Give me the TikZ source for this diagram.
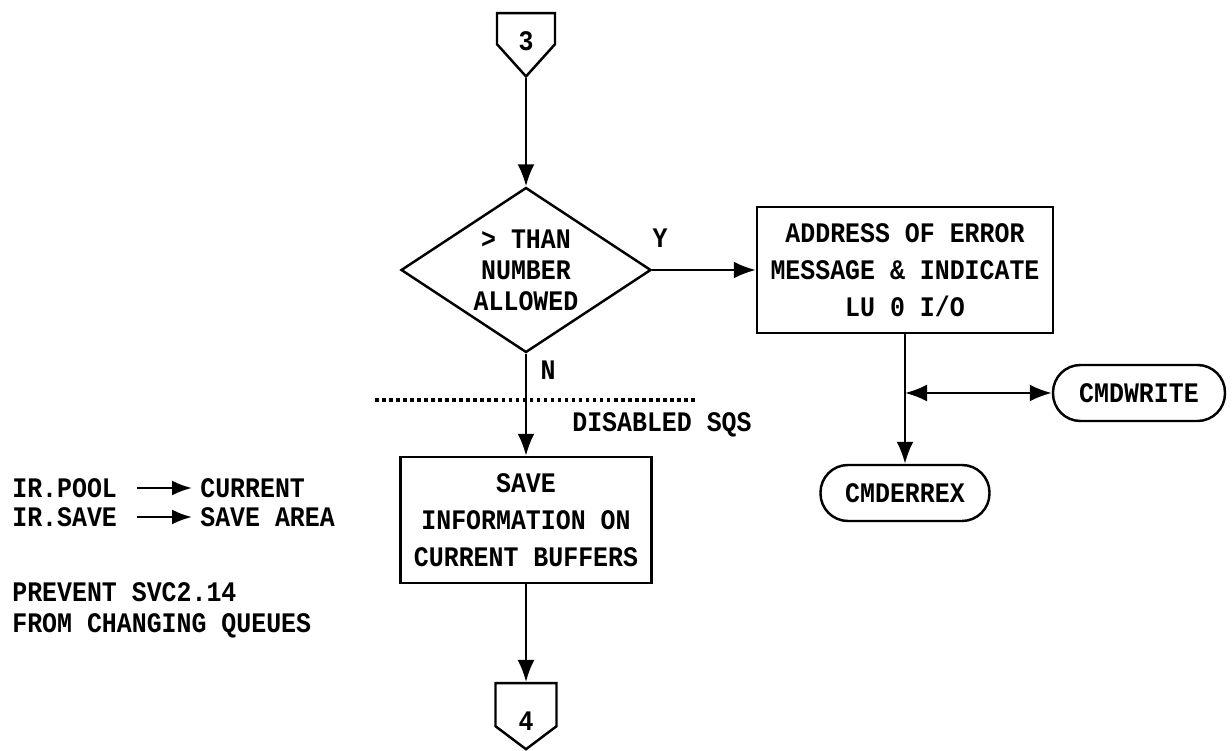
\documentclass[tikz,border=0pt]{standalone}
\usepackage{fontspec}
\usepackage{tikz}
\usetikzlibrary{shapes.geometric,shapes.symbols,arrows.meta}
\newfontfamily\chartfont{Liberation Mono}[FakeStretch=0.88]

\begin{document}
\begin{tikzpicture}[
    every node/.style={font=\chartfont\bfseries\fontsize{16.1pt}{21pt}\selectfont},
    flow/.style={line width=1.4pt, -{Latex[length=0.44cm,width=0.34cm]}},
    ptr/.style={line width=1.4pt, -{Latex[length=0.4cm,width=0.3cm]}, shorten <=0.4cm, shorten >=0.16cm},
    procbox/.style={rectangle, draw, line width=1.4pt, align=center, inner sep=0pt, minimum height=2.52cm},
    termbox/.style={rectangle, rounded corners=0.55cm, draw, line width=1.4pt, inner sep=0pt, minimum height=1.12cm},
    offpage/.style={shape=signal, signal to=south, signal from=nowhere, draw, line width=1.4pt, inner sep=0pt, anchor=north},
    note/.style={anchor=west, inner sep=0pt}
]
\useasboundingbox (0,0) rectangle (24.64,-15.02);

% Main column
\node[offpage, minimum width=1.16cm, minimum height=0.62cm, signal pointer angle=84,
      label={[yshift=-0.25cm]center:3}] (c3) at (10.52,-0.24) {};
\node[diamond, draw, line width=1.4pt, aspect=1.5, minimum width=5cm, minimum height=3.3cm,
      inner sep=0pt, align=center, font=\chartfont\bfseries\fontsize{16.1pt}{17.6pt}\selectfont] (dec) at (10.52,-5.4) {> THAN\\NUMBER\\ALLOWED};
\node[procbox, minimum width=5.02cm] (save) at (10.52,-10.4) {SAVE\\INFORMATION ON\\CURRENT BUFFERS};
\node[offpage, minimum width=1.22cm, minimum height=0.86cm, signal pointer angle=106,
      label={[yshift=-0.32cm]center:4}] (c4) at (10.52,-13.64) {};

% Error branch
\node[procbox, minimum width=5.92cm] (addr) at (18.1,-5.4) {ADDRESS OF ERROR\\MESSAGE \& INDICATE\\LU 0 I/O};
\node[termbox, minimum width=3.38cm] (erx) at (18.1,-9.86) {CMDERREX};
\node[termbox, minimum width=3.44cm] (wr) at (22.78,-7.86) {CMDWRITE};

% Branch labels
\node (yes) at (13.2,-4.76) {Y};
\node (no) at (10.96,-7.4) {N};
\node (sqs) at (13.24,-8.5) {DISABLED SQS};

% Connections
\draw[flow] (c3.south) -- (dec.north);
\draw[flow] (dec.east) -- (addr.west);
\draw[flow] (dec.south) -- (save.north);
\draw[flow] (save.south) -- (c4.north);
\draw[flow] (addr.south) -- (erx.north);
\coordinate (tap) at (addr.south |- wr.west);
\draw[flow, {Latex[length=0.44cm,width=0.34cm]}-{Latex[length=0.44cm,width=0.34cm]}] (tap) -- (wr.west);

% Disabled region boundary
\coordinate (dl) at (7.5,-8.0);
\coordinate (dr) at (13.94,-8.0);
\draw[line width=2pt, dash pattern=on 2pt off 2pt] (dl) -- (dr);

% Side notes
\foreach \src/\dst/\y [count=\k] in {IR.POOL/CURRENT/-9.76, IR.SAVE/SAVE AREA/-10.34} {
    \node[note] (src\k) at (0.24,\y) {\src};
    \node[note] (dst\k) at (4.0,\y) {\dst};
    \draw[ptr] (src\k) -- (dst\k);
}
\node[note, align=left, font=\chartfont\bfseries\fontsize{16.1pt}{17.6pt}\selectfont] (prev) at (0.24,-12.2) {PREVENT SVC2.14\\FROM CHANGING QUEUES};
\end{tikzpicture}
\end{document}
